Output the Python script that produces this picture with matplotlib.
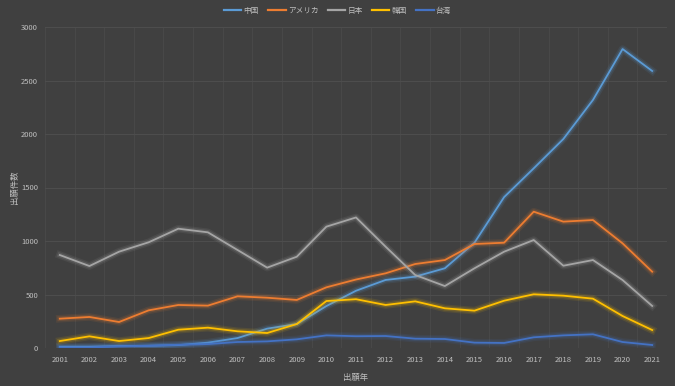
import matplotlib
matplotlib.use("Agg")
import matplotlib.pyplot as plt
import matplotlib.patheffects as pe

plt.rcParams['font.family'] = ['Noto Sans CJK JP', 'DejaVu Sans']

years = list(range(2001, 2022))
china = [12, 12, 18, 21, 27, 50, 93, 181, 224, 392, 535, 636, 667, 745, 984, 1410, 1679, 1953, 2318, 2794, 2589]
usa = [274, 290, 243, 352, 402, 396, 483, 470, 449, 567, 640, 698, 785, 822, 972, 984, 1274, 1181, 1196, 978, 713]
japan = [869, 766, 900, 988, 1115, 1081, 916, 751, 853, 1134, 1220, 947, 682, 579, 745, 900, 1009, 769, 822, 635, 393]
korea = [65, 109, 65, 93, 171, 190, 156, 140, 224, 439, 456, 402, 436, 371, 349, 442, 502, 489, 461, 299, 168]
taiwan = [5, 5, 15, 21, 30, 37, 56, 62, 81, 118, 110, 112, 87, 84, 50, 47, 100, 118, 128, 56, 28]

names = ['中国', 'アメリカ', '日本', '韓国', '台湾']
series = [china, usa, japan, korea, taiwan]
colors = ['#5B9BD5', '#ED7D31', '#A5A5A5', '#FFC000', '#4472C4']

bg = '#404040'
txt = '#BFBFBF'

fig = plt.figure(figsize=(6.75, 3.86), dpi=100, facecolor=bg)
ax = fig.add_axes([45/675, (386-348)/386, (667-45)/675, (348-27)/386])
ax.set_facecolor(bg)

x = list(range(len(years)))
for name, vals, c in zip(names, series, colors):
    ax.plot(x, vals, color=c, lw=1.3, label=name, zorder=3, solid_joinstyle='round',
            path_effects=[pe.Stroke(linewidth=5.5, foreground=c, alpha=0.1),
                          pe.Stroke(linewidth=3.4, foreground=c, alpha=0.18),
                          pe.Normal()])

ax.set_xlim(-0.5, len(years) - 0.5)
ax.set_ylim(0, 3000)
ax.set_yticks(range(0, 3001, 500))
ax.set_xticks(x)
ax.set_xticklabels([str(y) for y in years])
ax.set_xticks([i + 0.5 for i in range(-1, len(years))], minor=True)
ax.grid(False)
ax.yaxis.grid(True, color='#4D4D4D', lw=0.8, zorder=0)
ax.xaxis.grid(True, which='minor', color='#484848', lw=0.8, zorder=0)
ax.tick_params(axis='both', which='both', length=0, colors=txt, labelsize=5.5, pad=6)
ax.tick_params(axis='y', pad=5)
for s in ax.spines.values():
    s.set_visible(False)

ax.set_xlabel('出願年', color=txt, fontsize=6, labelpad=6)
fig.text(14/675, 1 - 187/386, '出願件数', color=txt, fontsize=6, rotation=90,
         ha='center', va='center')

leg = fig.legend(loc='upper center', bbox_to_anchor=(0.5, 1.0), ncol=5, frameon=False,
                 fontsize=5.5, labelcolor=txt, handlelength=2.3, columnspacing=1.2,
                 handletextpad=0.3)
for line in leg.get_lines():
    line.set_path_effects([])
    line.set_linewidth(1.6)

fig.savefig('out.png', dpi=100, facecolor=bg)
